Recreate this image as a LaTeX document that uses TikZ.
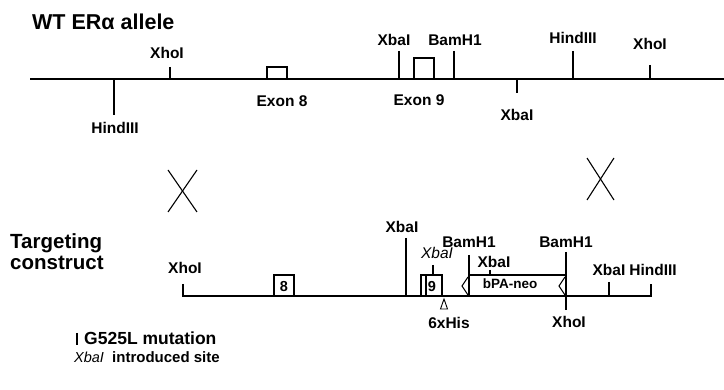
\documentclass[tikz,border=0pt]{standalone}
\usepackage{fontspec}
\setmainfont{Liberation Sans}
\begin{document}
\begin{tikzpicture}[x=1pt,y=-1pt,
  ln/.style={line width=1.1pt,black},
  lbl/.style={font=\fontsize{15.5}{17}\selectfont\bfseries,inner sep=0pt},
  ilbl/.style={font=\fontsize{15.5}{17}\selectfont\itshape,inner sep=0pt},
  ttl/.style={font=\fontsize{20.5}{23}\selectfont\bfseries,inner sep=0pt,anchor=west},
  num/.style={font=\fontsize{14.5}{15}\selectfont\bfseries,inner sep=0pt},
  leg/.style={font=\fontsize{17.5}{19}\selectfont\bfseries,inner sep=0pt,anchor=west}]
\useasboundingbox (0,0) rectangle (724,390);
% ---------- WT allele ----------
\node[ttl,font=\fontsize{21.5}{23}\selectfont\bfseries] (t1) at (32,22) {WT ERα allele};
\draw[ln] (30,79) coordinate (wa) -- (724,79) coordinate (wb);
% XhoI
\draw[ln] (170,67) -- (170,79);
\node[lbl] (w1) at (167,53) {XhoI};
% HindIII down
\draw[ln] (114,79) -- (114,115);
\node[lbl] (w2) at (115,128) {HindIII};
% Exon 8
\draw[ln] (267,79) -- (267,67) -- (287,67) -- (287,79);
\node[lbl] (w3) at (282,101) {Exon 8};
% XbaI
\draw[ln] (399,51) -- (399,79);
\node[lbl] (w4) at (394,40) {XbaI};
% Exon 9
\draw[ln] (414,79) -- (414,58) -- (434,58) -- (434,79);
\node[lbl] (w5) at (419,100) {Exon 9};
% BamH1
\draw[ln] (454,51) -- (454,79);
\node[lbl] (w6) at (455,40) {BamH1};
% XbaI down
\draw[ln] (517,79) -- (517,93);
\node[lbl] (w7) at (517,115) {XbaI};
% HindIII
\draw[ln] (573,51) -- (573,79);
\node[lbl] (w8) at (573,38) {HindIII};
% XhoI
\draw[ln] (650,65) -- (650,79);
\node[lbl] (w9) at (650,44) {XhoI};
% ---------- crosses ----------
\draw[ln] (168,170) -- (197,212);
\draw[ln] (197,170) -- (168,212);
\draw[ln] (587,158) -- (614,200);
\draw[ln] (614,158) -- (587,200);
% ---------- Targeting construct ----------
\node[ttl] (t2) at (10,243) {Targeting};
\node[ttl] (t3) at (10,263) {construct};
\draw[ln] (183,284) -- (183,296) -- (651,296) -- (651,284);
\node[lbl] (c1) at (185,268) {XhoI};
% exon 8
\draw[ln] (274,296) -- (274,275) -- (294,275) -- (294,296);
\node[num] (c2) at (284,287) {8};
% XbaI tall
\draw[ln] (406,238) -- (406,296);
\node[lbl] (c3) at (402,227) {XbaI};
% exon 9
\draw[ln] (421,296) -- (421,275) -- (442,275) -- (442,296);
\draw[ln] (426,275) -- (426,296);
\node[num] (c4) at (432,287) {9};
\draw[ln] (433,265) -- (433,275);
\node[ilbl] (c5) at (437,253) {XbaI};
% 6xHis
\draw[line width=0.9pt] (444,299) -- (440.5,309) -- (447.5,309) -- cycle;
\node[lbl] (c6) at (449,323) {6xHis};
% BamH1 left
\draw[ln] (469,255) -- (469,296);
\node[lbl] (c7) at (469,242) {BamH1};
% bPA-neo
\draw[ln] (469,275) -- (566,275);
\draw[ln] (468,277) -- (462,286) -- (468,295);
\draw[ln] (565,277) -- (559,286) -- (565,295);
\node[font=\fontsize{13.5}{14}\selectfont\bfseries,inner sep=0pt] (c8) at (510,284) {bPA-neo};
\draw[ln] (490,270) -- (490,275);
\node[lbl] (c9) at (494,262) {XbaI};
% BamH1 / XhoI
\draw[ln] (566,252) -- (566,310);
\node[lbl] (c10) at (566,242) {BamH1};
\node[lbl] (c11) at (569,322) {XhoI};
% XbaI, HindIII right
\draw[ln] (609,282) -- (609,296);
\node[lbl] (c12) at (609,270) {XbaI};
\node[lbl] (c13) at (653,270) {HindIII};
% ---------- legend ----------
\draw[line width=1.6pt] (77,333) -- (77,345);
\node[leg] (l1) at (84,338) {G525L mutation};
\node[ilbl,anchor=west,font=\fontsize{14.5}{17}\selectfont\itshape] (l2) at (74,357) {XbaI};
\node[leg,font=\fontsize{15}{17}\selectfont\bfseries] (l3) at (112,357) {introduced site};
\end{tikzpicture}
\end{document}
